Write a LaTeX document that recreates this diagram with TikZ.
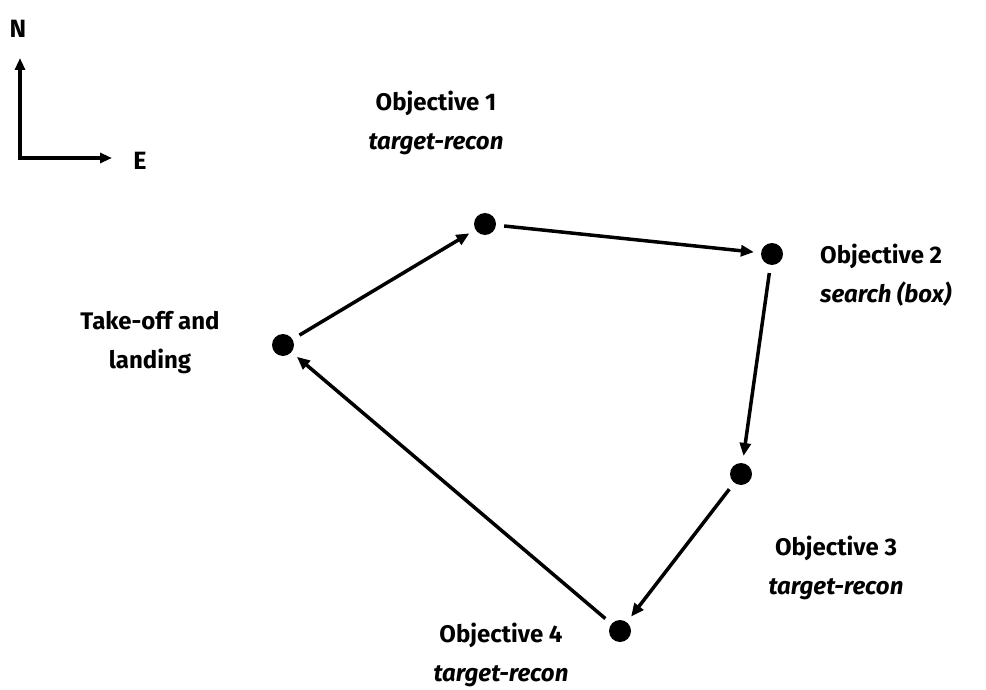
\documentclass[tikz,border=0pt]{standalone}
\usepackage{fontspec}
\setmainfont{Fira Sans}
\usetikzlibrary{arrows.meta}
\begin{document}
\begin{tikzpicture}[x=1pt,y=-1pt,
  wp/.style={circle,fill=black,inner sep=0pt,minimum size=22pt},
  leg/.style={line width=3.5pt,-{Triangle[length=13pt,width=11pt]},shorten <=8pt,shorten >=7pt},
  lbl/.style={font=\fontsize{24}{39}\selectfont\bfseries,align=center,inner sep=0pt},
  axis/.style={line width=3.5pt,-{Triangle[length=12pt,width=10pt]}},
  axlbl/.style={font=\fontsize{25}{28}\selectfont\bfseries,inner sep=0pt}]
\useasboundingbox (0,0) rectangle (986,690);
% compass
\coordinate (origin) at (20,158);
\coordinate (north) at (20,58);
\coordinate (east) at (112,158);
\draw[axis] (origin) -- (north);
\draw[axis] ([xshift=-1.75pt]origin) -- (east);
\node[axlbl] (nlbl) at (18,29) {N};
\node[axlbl] (elbl) at (140,161) {E};
% waypoints
\node[wp] (home) at (283,345) {};
\node[wp] (o1) at (485,224) {};
\node[wp] (o2) at (772,254) {};
\node[wp] (o3) at (741,474) {};
\node[wp] (o4) at (620,631) {};
% labels
\node[lbl] (lhome) at (150,343) {Take-off and\\landing};
\node[lbl] (l1) at (436,123) {Objective 1\\\itshape target-recon};
\node[lbl,align=left,anchor=west] (l2) at (820,275) {Objective 2\\\itshape search (box)};
\node[lbl] (l3) at (836,568) {Objective 3\\\itshape target-recon};
\node[lbl] (l4) at (501,655) {Objective 4\\\itshape target-recon};
% route
\draw[leg] (home) -- (o1);
\draw[leg] (o1) -- (o2);
\draw[leg] (o2) -- (o3);
\draw[leg] (o3) -- (o4);
\draw[leg] (o4) -- (home);
\end{tikzpicture}
\end{document}
